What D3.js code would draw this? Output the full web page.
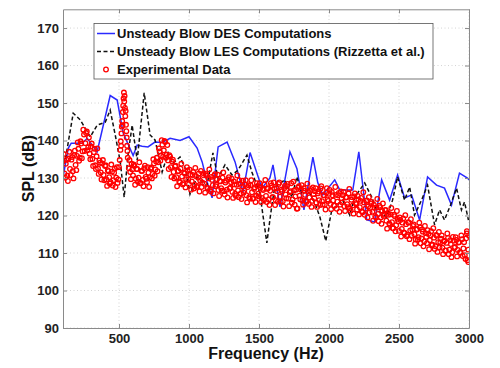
<!DOCTYPE html>
<html><head><meta charset="utf-8">
<script src="https://cdn.jsdelivr.net/npm/d3@7"></script>
<style>
body{margin:0;background:#fff;}
text{font-family:"Liberation Sans",Arial,sans-serif;}
</style></head>
<body><svg id="c" width="500" height="368"></svg>
<script>
const xTicks = [500,1000,1500,2000,2500,3000];
const yTicks = [90,100,110,120,130,140,150,160,170];
const legendLabels = ["Unsteady Blow DES Computations","Unsteady Blow LES Computations (Rizzetta et al.)","Experimental Data"];

const desFreq = [100,138,159,238,273,344,437,487,530,601,630,665,707,757,808,865,936,1000,1058,1094,1129,1165,1208,1272,1329,1386,1436,1521,1578,1600,1650,1721,1771,1821,1885,1920,1956,2041,2077,2148,2170,2213,2270,2326,2376,2433,2490,2540,2590,2647,2704,2768,2825,2875,2932,2989,3000];
const desSPL  = [130.2,138,139.3,139.3,140.6,137,152,150.8,142,136,138.8,138.5,138.3,139.6,139.5,140.6,140,141,138,134.3,129,124.7,138.3,139.6,134.3,126.3,136.8,127.3,130,133.5,122.3,137,132.5,121.5,135.6,128.7,125.5,129.5,126.8,126.8,126.8,137,118.8,118.3,129.5,124.1,130.8,124.7,125.5,118.8,130.3,128.1,127.3,122.8,131.3,130,129.5];

const lesFreq = [100,116,173,223,295,344,402,437,473,509,537,566,594,630,680,722,758,808,851,886,936,979,1007,1057,1129,1171,1207,1257,1307,1350,1414,1449,1506,1556,1592,1613,1685,1735,1770,1806,1849,1899,1935,1977,2020,2098,2148,2184,2255,2305,2340,2412,2454,2490,2540,2576,2611,2661,2704,2754,2790,2825,2868,2911,2946,2968,2996];
const lesSPL  = [133.5,134.8,147.3,145.5,141,144.1,144.9,148.1,141.5,134.3,124.9,136.7,144.1,134.8,152.7,141.5,140.1,131.6,136.7,134,135.6,132.1,125.7,130.3,128.1,136.7,130,133.5,130.8,132.1,136.1,131.6,126,112.7,122.8,127.6,129.5,124.9,130.3,126,126.8,123.3,119.6,113.2,121.5,124.1,120.1,124.9,128.7,124.9,121.5,119.6,124.1,130.3,124.1,127.6,120.1,124.1,128.1,117.5,121.5,118.8,122.8,127.3,121.5,123.6,118.8];

const expFreq = [
100,110,120,130,140,150,160,170,180,190,
200,210,220,230,240,250,260,270,280,290,
300,310,320,330,340,350,360,370,380,390,
400,410,420,430,440,450,460,470,480,490,
500,505,510,512.5,515,517.5,520,522.5,525,527.5,530,532.5,535,537.5,540,542.5,545,547.5,550,552.5,555,557.5,560,562.5,570,580,590,
600,610,620,630,640,650,660,670,680,690,
700,710,720,730,740,750,760,770,780,790,
800,810,820,830,840,850,860,870,880,890,
900,910,920,930,940,950,960,970,980,990,
1000,1010,1020,1030,1040,1050,1060,1070,1080,1090,
1100,1110,1120,1130,1140,1150,1160,1170,1180,1190,
1200,1210,1220,1230,1240,1250,1260,1270,1280,1290,
1300,1310,1320,1330,1340,1350,1360,1370,1380,1390,
1400,1410,1420,1430,1440,1450,1460,1470,1480,1490,
1500,1510,1520,1530,1540,1550,1560,1570,1580,1590,
1600,1610,1620,1630,1640,1650,1660,1670,1680,1690,
1700,1710,1720,1730,1740,1750,1760,1770,1780,1790,
1800,1810,1820,1830,1840,1850,1860,1870,1880,1890,
1900,1910,1920,1930,1940,1950,1960,1970,1980,1990,
2000,2010,2020,2030,2040,2050,2060,2070,2080,2090,
2100,2110,2120,2130,2140,2150,2160,2170,2180,2190,
2200,2210,2220,2230,2240,2250,2260,2270,2280,2290,
2300,2310,2320,2330,2340,2350,2360,2370,2380,2390,
2400,2410,2420,2430,2440,2450,2460,2470,2480,2490,
2500,2510,2520,2530,2540,2550,2560,2570,2580,2590,
2600,2610,2620,2630,2640,2650,2660,2670,2680,2690,
2700,2710,2720,2730,2740,2750,2760,2770,2780,2790,
2800,2810,2820,2830,2840,2850,2860,2870,2880,2890,
2900,2910,2920,2930,2940,2950,2960,2970,2980,2985,2990,2995,3000,
105,115,125,135,145,155,165,175,185,195,
205,215,225,235,245,255,265,275,285,295,
305,315,325,335,345,355,365,375,385,395,
405,415,425,435,445,455,465,475,485,495,
575,585,595,
605,615,625,635,645,655,665,675,685,695,
705,715,725,735,745,755,765,775,785,795,
805,815,825,835,845,855,865,875,885,895,
905,915,925,935,945,955,965,975,985,995,
1005,1015,1025,1035,1045,1055,1065,1075,1085,1095,
1105,1115,1125,1135,1145,1155,1165,1175,1185,1195,
1205,1215,1225,1235,1245,1255,1265,1275,1285,1295,
1305,1315,1325,1335,1345,1355,1365,1375,1385,1395,
1405,1415,1425,1435,1445,1455,1465,1475,1485,1495,
1505,1515,1525,1535,1545,1555,1565,1575,1585,1595,
1605,1615,1625,1635,1645,1655,1665,1675,1685,1695,
1705,1715,1725,1735,1745,1755,1765,1775,1785,1795,
1805,1815,1825,1835,1845,1855,1865,1875,1885,1895,
1905,1915,1925,1935,1945,1955,1965,1975,1985,1995,
2005,2015,2025,2035,2045,2055,2065,2075,2085,2095,
2105,2115,2125,2135,2145,2155,2165,2175,2185,2195,
2205,2215,2225,2235,2245,2255,2265,2275,2285,2295,
2305,2315,2325,2335,2345,2355,2365,2375,2385,2395,
2405,2415,2425,2435,2445,2455,2465,2475,2485,2495,
2505,2515,2525,2535,2545,2555,2565,2575,2585,2595,
2605,2615,2625,2635,2645,2655,2665,2675,2685,2695,
2705,2715,2725,2735,2745,2755,2765,2775,2785,2795,
2805,2815,2825,2835,2845,2855,2865,2875,2885,2895,
2905,2915,2925,2935,2945,2955,2965,2975,2985,2995];
const expSPL = [
134.5,131.2,133.8,130.6,135.2,132.4,134.9,131.8,136.1,133.5,
135.9,137.8,135.4,139.2,137.1,141.6,139.3,142.4,138.2,136.5,
138.4,135.1,136.9,133.4,135.8,132.6,134.7,131.5,133.9,130.8,
133.2,129.6,132.1,130.2,128.9,131.7,129.4,132.5,130.1,128.7,
132.9,134.8,137.5,139.8,138.6,141.9,143.7,145.2,144.1,147.6,149.3,151.2,152.8,150.4,151.9,148.7,146.5,147.9,144.2,142.5,140.8,138.6,137.2,135.4,132.6,131.6,133.8,
130.7,133.2,129.8,132.4,130.1,128.7,131.9,129.5,132.6,130.3,
128.9,131.4,130.2,132.8,131.1,133.9,132.3,135.4,134.2,137.1,
136.0,138.9,137.4,139.6,136.2,134.7,136.1,132.9,134.4,131.6,
133.1,130.2,131.8,129.1,132.5,130.4,128.6,131.2,129.7,132.0,
128.4,130.9,129.1,131.6,128.2,130.5,127.9,131.2,129.3,127.6,
130.8,128.5,131.1,127.4,129.9,126.9,130.3,128.1,130.6,127.8,
129.7,126.8,129.2,127.3,130.1,126.5,128.8,126.9,129.6,127.2,
128.9,126.3,129.1,125.8,128.2,126.7,129.4,125.9,127.8,126.1,
128.3,125.4,127.6,124.9,128.1,126.2,124.6,127.5,125.3,127.9,
125.1,127.4,124.7,126.8,128.3,125.2,127.1,124.3,126.6,128.0,
124.9,127.2,124.1,126.5,128.4,125.0,126.9,123.8,127.3,125.6,
127.8,124.5,126.2,128.6,124.3,126.7,125.1,121.8,127.4,125.3,
126.9,124.0,127.3,125.5,123.6,126.4,124.8,127.1,123.9,125.7,
126.5,123.4,125.9,124.1,127.2,123.8,125.4,122.9,126.1,124.3,
125.8,123.1,126.3,124.0,122.6,125.5,123.7,126.0,122.9,124.6,
125.4,122.5,124.8,123.0,125.9,121.9,124.2,122.7,125.1,123.3,
121.6,124.3,122.2,124.7,120.9,123.5,121.8,124.0,122.4,120.8,
123.2,121.0,122.9,119.8,122.1,120.4,122.6,119.5,121.3,119.9,
121.4,118.6,120.7,117.9,120.3,118.2,116.6,119.8,117.4,119.1,
115.9,118.8,116.4,119.2,115.3,117.7,114.8,118.1,116.0,114.6,
117.2,115.0,113.6,116.4,114.2,116.8,113.9,115.7,113.1,115.3,
112.6,115.1,113.4,115.8,112.2,114.1,111.8,114.6,112.9,111.5,
113.8,111.4,113.1,110.6,112.7,114.0,110.9,112.4,110.2,113.3,
111.6,113.5,110.8,112.9,110.1,113.7,111.2,109.4,113.9,115.2,108.1,107.6,114.6,
136.4,130.1,134.9,129.2,137.0,130.8,135.6,129.9,137.3,132.1,
139.5,134.6,139.8,135.3,142.9,137.2,142.0,137.4,140.8,135.0,
139.2,133.2,137.8,132.4,137.9,131.1,134.1,129.6,134.8,129.4,
133.4,127.9,131.8,128.5,133.6,128.0,131.4,127.6,132.9,129.6,
134.8,129.7,132.3,
133.6,128.2,132.4,129.0,134.2,128.6,131.9,127.8,133.3,129.8,
132.9,127.6,132.5,129.9,135.0,130.6,134.4,131.8,137.9,134.6,
140.1,135.7,139.9,135.4,138.8,132.4,135.7,130.3,134.9,129.9,
133.3,127.8,131.9,128.8,133.8,128.3,131.5,127.5,132.9,129.6,
132.2,126.9,130.8,127.2,132.7,127.6,130.1,126.4,131.9,128.8,
131.3,126.1,130.6,127.3,132.3,126.4,129.5,125.9,131.0,128.2,
130.9,125.2,129.1,126.6,131.5,125.6,129.3,124.8,130.2,127.4,
129.8,124.7,128.3,125.2,130.7,124.9,128.5,124.4,129.3,126.6,
129.4,123.5,128.1,124.5,129.4,124.5,127.1,123.6,128.6,125.8,
128.6,123.6,127.1,124.1,129.5,123.6,127.3,122.8,128.6,124.9,
128.8,122.8,127.2,123.7,128.8,123.7,126.5,122.4,127.9,124.6,
128.4,122.5,126.5,123.4,129.0,122.9,126.9,121.9,127.8,124.3,
128.1,122.9,126.6,123.9,128.5,123.1,126.6,122.3,127.5,124.6,
127.3,122.3,126.4,122.8,127.8,122.9,125.4,121.6,127.3,123.9,
126.8,121.7,125.4,122.7,127.6,121.8,125.4,121.0,126.4,123.5,
126.3,121.2,124.9,122.2,127.1,121.3,124.9,120.5,125.9,123.0,
125.2,120.3,123.9,121.1,126.2,120.2,123.9,119.5,124.9,122.0,
123.6,118.6,122.1,119.5,124.4,118.5,122.2,117.8,123.2,120.4,
121.5,116.5,120.2,117.6,122.0,116.6,120.2,115.8,121.2,118.4,
119.5,114.4,118.1,115.5,120.1,114.5,118.2,113.7,119.0,116.2,
117.6,112.5,116.2,113.6,118.1,112.6,116.3,111.8,117.2,114.3,
116.1,111.0,114.7,112.1,116.6,111.1,114.8,110.3,115.6,112.8,
114.7,109.7,113.3,110.7,115.2,109.7,113.4,108.9,114.3,111.4,
114.2,109.1,112.8,110.2,114.7,109.2,112.9,108.4,115.8,110.9];

const svg = d3.select("#c");
const x = d3.scaleLinear().domain([100,3000]).range([63,469]);
const y = d3.scaleLinear().domain([90,175]).range([328,9.3]);
const [x0,x1] = x.range(), [y0,y1] = y.range();

svg.append("rect").attr("x",x0).attr("y",y1).attr("width",x1-x0).attr("height",y0-y1).attr("fill","#fff");

// grid
const grid = svg.append("g").attr("stroke","#c8c8c8").attr("stroke-width",0.8).attr("stroke-dasharray","1,2.5");
grid.selectAll(".gx").data(xTicks).join("line").attr("x1",d=>x(d)).attr("x2",d=>x(d)).attr("y1",y0).attr("y2",y1);
grid.selectAll(".gy").data(yTicks).join("line").attr("y1",d=>y(d)).attr("y2",d=>y(d)).attr("x1",x0).attr("x2",x1);

svg.append("clipPath").attr("id","clip").append("rect").attr("x",x0).attr("y",y1).attr("width",x1-x0).attr("height",y0-y1);
const plot = svg.append("g").attr("clip-path","url(#clip)");

const line = d3.line().x(d=>x(d[0])).y(d=>y(d[1]));
plot.append("path").datum(desFreq.map((f,i)=>[f,desSPL[i]]))
  .attr("d",line).attr("fill","none").attr("stroke","#2a2aff").attr("stroke-width",1.5);
plot.append("path").datum(lesFreq.map((f,i)=>[f,lesSPL[i]]))
  .attr("d",line).attr("fill","none").attr("stroke","#111").attr("stroke-width",1.5).attr("stroke-dasharray","4,2.5");
plot.append("g").selectAll("circle").data(expFreq.map((f,i)=>[f,expSPL[i]])).join("circle")
  .attr("cx",d=>x(d[0])).attr("cy",d=>y(d[1])).attr("r",2.3)
  .attr("fill","none").attr("stroke","#ff0000").attr("stroke-width",1.3);

// axes
const fontT = "bold 13px 'Liberation Sans', Arial, sans-serif";
const fmt = d3.format("d");
function styleAxis(g, hide){
  g.select(".domain").attr("stroke","#8a8a8a").attr("stroke-width",1);
  g.selectAll(".tick line").attr("stroke","#8a8a8a");
  g.selectAll(".tick text").attr("fill","#222").style("font",fontT);
  if(hide) g.selectAll(".tick text").remove();
}
svg.append("g").attr("transform",`translate(0,${y0})`).call(d3.axisBottom(x).tickValues(xTicks).tickFormat(fmt).tickSizeInner(-4).tickSizeOuter(0).tickPadding(6)).call(g=>styleAxis(g,false));
svg.append("g").attr("transform",`translate(0,${y1})`).call(d3.axisTop(x).tickValues(xTicks).tickSizeInner(-4).tickSizeOuter(0)).call(g=>styleAxis(g,true));
svg.append("g").attr("transform",`translate(${x0},0)`).call(d3.axisLeft(y).tickValues(yTicks).tickFormat(fmt).tickSizeInner(-4).tickSizeOuter(0).tickPadding(4)).call(g=>styleAxis(g,false));
svg.append("g").attr("transform",`translate(${x1},0)`).call(d3.axisRight(y).tickValues(yTicks).tickSizeInner(-4).tickSizeOuter(0)).call(g=>styleAxis(g,true));

svg.append("text").attr("x",(x0+x1)/2).attr("y",359).attr("text-anchor","middle")
  .style("font","bold 16px 'Liberation Sans', Arial, sans-serif").attr("fill","#111").text("Frequency (Hz)");
svg.append("text").attr("transform",`translate(34,${(y0+y1)/2}) rotate(-90)`).attr("text-anchor","middle")
  .style("font","bold 16px 'Liberation Sans', Arial, sans-serif").attr("fill","#111").text("SPL (dB)");

// legend
const lg = svg.append("g");
lg.append("rect").attr("x",94).attr("y",23.5).attr("width",339).attr("height",55.5).attr("fill","#fff").attr("stroke","#555").attr("stroke-width",0.8);
const rows = [33.5,51.5,69.5];
lg.append("line").attr("x1",97).attr("x2",115).attr("y1",rows[0]).attr("y2",rows[0]).attr("stroke","#2a2aff").attr("stroke-width",1.5);
lg.append("line").attr("x1",97).attr("x2",115).attr("y1",rows[1]).attr("y2",rows[1]).attr("stroke","#111").attr("stroke-width",1.5).attr("stroke-dasharray","4,2.5");
lg.append("circle").attr("cx",106).attr("cy",rows[2]).attr("r",2.3).attr("fill","none").attr("stroke","#ff0000").attr("stroke-width",1.3);
lg.selectAll("text.l").data(legendLabels).join("text").attr("x",117).attr("y",(d,i)=>rows[i]+4.5)
  .style("font","bold 13px 'Liberation Sans', Arial, sans-serif").attr("fill","#111").text(d=>d);
</script></body></html>
